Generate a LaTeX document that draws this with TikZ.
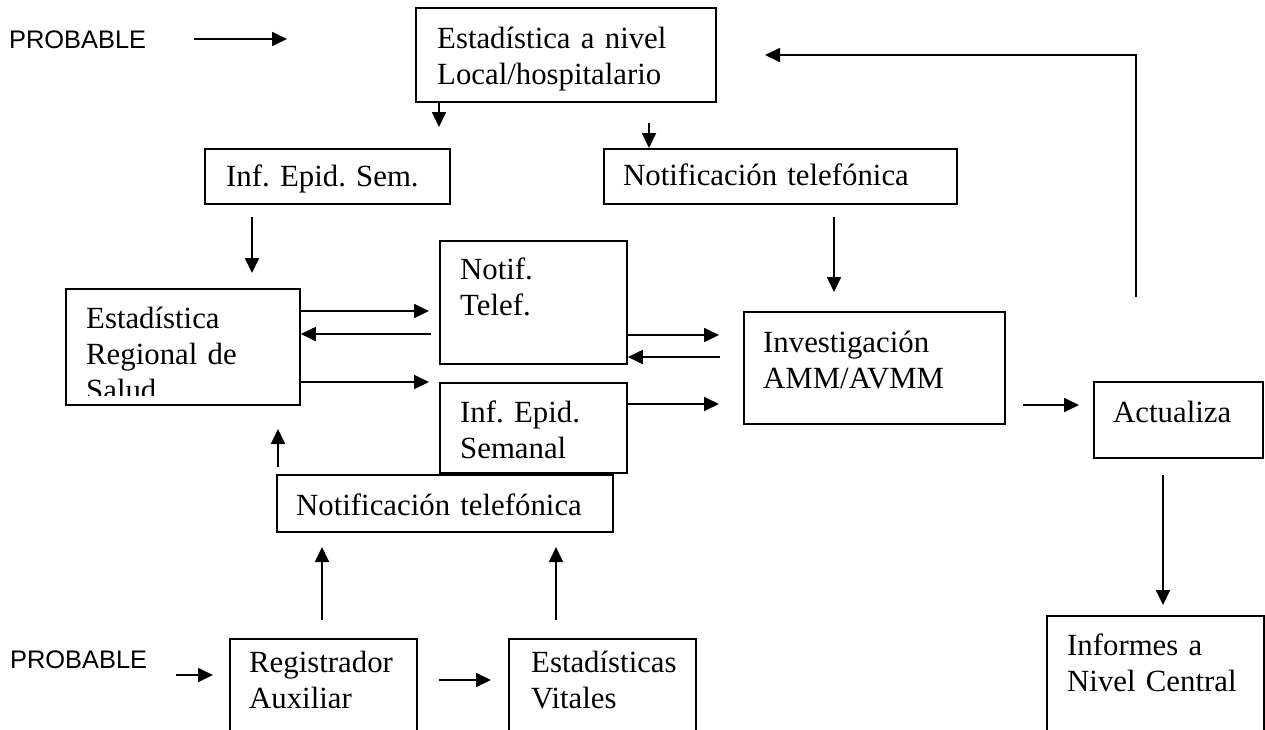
\documentclass[tikz,border=0pt]{standalone}
\usepackage{fontspec}
\setmainfont{Liberation Serif}
\newfontfamily\probfont{Liberation Sans}
\frenchspacing
\usetikzlibrary{arrows.meta}
\tikzset
 {> = {Triangle[length=15pt,width=14pt]},            % solid heads as in the chart
  box/.style = {draw, line width=1.8pt, anchor=north west, inner sep=0pt},
  txt/.style = {anchor=base west, inner sep=0pt, text width=360pt, align=left,
                font=\fontsize{30.8}{36}\selectfont},    % texts inside the boxes
  tag/.style = {anchor=base west, inner sep=0pt,
                font=\probfont\fontsize{25.4}{30}\selectfont},  % PROBABLE
  link/.style = {->, line width=1.8pt}                  % every connector
 }

\begin{document}
\begin{tikzpicture}[x=1pt, y=-1pt]
    \useasboundingbox (0,0) rectangle (1265,729);
    \clip (0,0) rectangle (1265,729);
    % boxes: name/left/top/width/height
    \foreach \name/\x/\y/\w/\h in {loc/415/7/300/94, ies/204/148/245/55,
        ntelA/603/148/353/55, reg/65/288/234/116, ntf/439/240/187/123,
        iesB/439/382/187/90, inv/743/311/261/112, act/1093/381/169/76,
        inc/1046/615/217/140, ntelB/276/474/336/57, aux/229/638/187/120,
        vit/508/638/187/120}
        \node[box, minimum width=\w pt, minimum height=\h pt] (\name) at (\x,\y) {};
    % texts
    \node[tag] (probA) at (9,48) {PROBABLE};
    \node[tag] (probB) at (10,668) {PROBABLE};
    \node[txt] (loc-t) at (437,48) {Estadística a nivel\\Local/hospitalario};
    \node[txt] (ies-t) at (226,186) {Inf. Epid. Sem.};
    \node[txt] (ntelA-t) at (623,185) {Notificación telefónica};
    \begin{scope}
        \clip (reg.north west) rectangle (299,395);
        \node[txt] (reg-t) at (86,328) {Estadística\\Regional de\\Salud};
    \end{scope}
    \node[txt] (ntf-t) at (460,279) {Notif.\\Telef.};
    \node[txt] (iesB-t) at (460,422) {Inf. Epid.\\Semanal};
    \node[txt] (inv-t) at (763,352) {Investigación\\AMM/AVMM};
    \node[txt] (act-t) at (1113,422) {Actualiza};
    \node[txt] (inc-t) at (1067,655) {Informes a\\Nivel Central};
    \node[txt] (ntelB-t) at (296,515) {Notificación telefónica};
    \node[txt] (aux-t) at (249,672) {Registrador\\Auxiliar};
    \node[txt] (vit-t) at (531,672) {Estadísticas\\Vitales};
    % free ends of the connectors
    \foreach \n/\x/\y in {pAs/194/39, pAe/287/39, d1/439/127, d2/649/123,
        fbA/1136/297, fbB/765/55, d3s/252/217, d3e/252/273, d4s/834/217,
        d4e/834/292, h1/429/311, h2/431/334, h3/429/382, h4/719/335,
        h5/720/357, h6/719/404, h7s/1023/405, h7e/1079/405, v1s/1163/475,
        v1e/1163/605, u1s/278/467, u1e/278/429, u2s/322/620, u2e/322/547,
        u3s/556/620, u3e/556/547, b1s/176/675, b1e/213/675, b2s/439/680,
        b2e/491/680}
        \coordinate (\n) at (\x,\y);
    % connectors
    \foreach \a/\b in {pAs/pAe, d3s/d3e, d4s/d4e, h7s/h7e, v1s/v1e,
        u1s/u1e, u2s/u2e, u3s/u3e, b1s/b1e, b2s/b2e}
        \draw[link] (\a) -- (\b);
    \draw[link] (d1 |- loc.south) -- (d1);
    \draw[link] (d2) -- (d2 |- ntelA.north);
    \draw[link] (fbA) |- (fbB);
    \draw[link] (reg.east |- h1) -- (h1);
    \draw[link] (h2) -- (reg.east |- h2);
    \draw[link] (reg.east |- h3) -- (h3);
    \draw[link] (ntf.east |- h4) -- (h4);
    \draw[link] (h5) -- (ntf.east |- h5);
    \draw[link] (iesB.east |- h6) -- (h6);
\end{tikzpicture}
\end{document}
